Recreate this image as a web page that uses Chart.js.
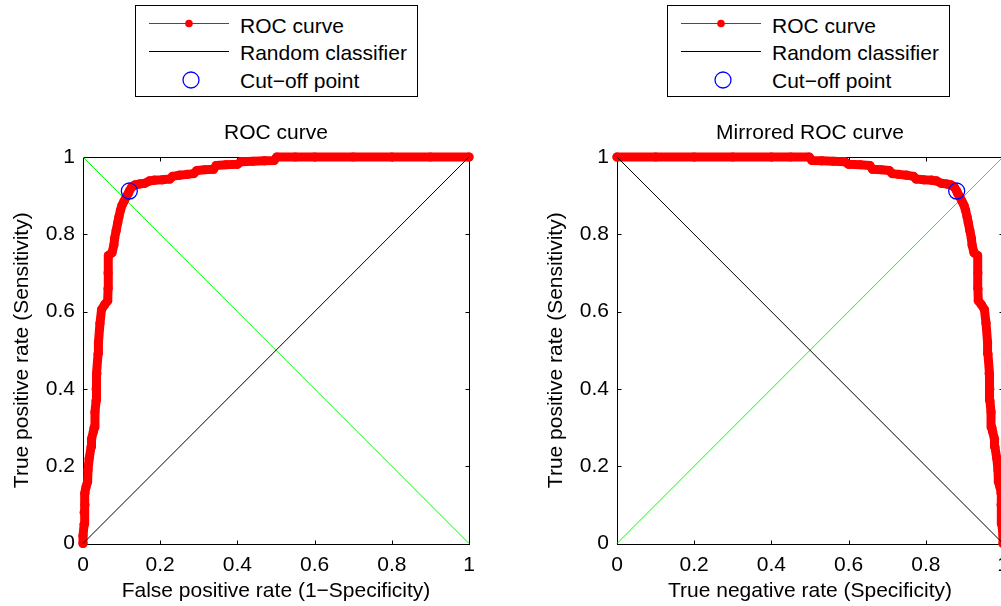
<!DOCTYPE html>
<html>
<head>
<meta charset="utf-8">
<script src="https://cdn.jsdelivr.net/npm/chart.js@4.4.1/dist/chart.umd.min.js"></script>
<style>
  html, body { margin:0; padding:0; background:#fff; }
  body { width:1001px; height:606px; overflow:hidden; position:relative; font-family:"Liberation Sans", Arial, Helvetica, sans-serif; }
  canvas { position:absolute; top:0; }
  .legend { position:absolute; top:5px; width:281px; height:90px; border:1px solid #000; background:#fff; }
  .legend svg { position:absolute; left:0; top:0; }
  .legend span { position:absolute; left:104px; font-size:21px; line-height:24px; color:#000; white-space:nowrap; }
</style>
</head>
<body>
<canvas id="left" width="533" height="606" style="left:0px"></canvas>
<canvas id="right" width="533" height="606" style="left:534px"></canvas>

<div class="legend" style="left:135px">
  <svg width="281" height="90">
    <line x1="13" y1="17.5" x2="93" y2="17.5" stroke="#ff0000" stroke-width="1"/>
    <circle cx="53" cy="17.5" r="3.8" fill="#ff0000"/>
    <line x1="13" y1="45.5" x2="93" y2="45.5" stroke="#000" stroke-width="1"/>
    <circle cx="55" cy="74" r="8" fill="none" stroke="#0000ff" stroke-width="1.3"/>
  </svg>
  <span style="top:8px">ROC curve</span>
  <span style="top:35px">Random classifier</span>
  <span style="top:63px">Cut−off point</span>
</div>
<div class="legend" style="left:667px">
  <svg width="281" height="90">
    <line x1="13" y1="17.5" x2="93" y2="17.5" stroke="#ff0000" stroke-width="1"/>
    <circle cx="53" cy="17.5" r="3.8" fill="#ff0000"/>
    <line x1="13" y1="45.5" x2="93" y2="45.5" stroke="#000" stroke-width="1"/>
    <circle cx="55" cy="74" r="8" fill="none" stroke="#0000ff" stroke-width="1.3"/>
  </svg>
  <span style="top:8px">ROC curve</span>
  <span style="top:35px">Random classifier</span>
  <span style="top:63px">Cut−off point</span>
</div>

<script>
// ---- data ----
const fpr = [0, 0, 0.003, 0.003, 0.005, 0.005, 0.008, 0.012, 0.013, 0.016, 0.021, 0.022, 0.027, 0.029, 0.031, 0.034, 0.034, 0.036, 0.039, 0.040, 0.044, 0.048, 0.056, 0.064, 0.065, 0.065, 0.066, 0.075, 0.080, 0.082, 0.086, 0.090, 0.093, 0.097, 0.101, 0.106, 0.112, 0.117, 0.120, 0.126, 0.135, 0.145, 0.160, 0.172, 0.185, 0.205, 0.225, 0.232, 0.250, 0.270, 0.287, 0.295, 0.315, 0.338, 0.345, 0.370, 0.400, 0.410, 0.440, 0.470, 0.495, 0.502, 0.55, 0.6, 0.7, 0.8, 0.9, 1];
const tpr = [0, 0.02, 0.05, 0.08, 0.10, 0.13, 0.147, 0.16, 0.19, 0.22, 0.25, 0.27, 0.29, 0.30, 0.34, 0.37, 0.40, 0.44, 0.49, 0.52, 0.57, 0.605, 0.618, 0.628, 0.66, 0.70, 0.745, 0.752, 0.772, 0.79, 0.81, 0.83, 0.845, 0.862, 0.875, 0.885, 0.897, 0.905, 0.912, 0.922, 0.928, 0.930, 0.932, 0.938, 0.940, 0.941, 0.943, 0.950, 0.953, 0.955, 0.957, 0.965, 0.967, 0.968, 0.978, 0.980, 0.981, 0.988, 0.989, 0.990, 0.991, 1, 1, 1, 1, 1, 1, 1];
const cutoffFpr = 0.12;
const cutoffTpr = 0.912;
const diagX = [0, 1];
const diagUp = [0, 1];
const diagDown = [1, 0];
const tickValues = [0, 0.2, 0.4, 0.6, 0.8, 1];
const tickLabels = ["0", "0.2", "0.4", "0.6", "0.8", "1"];
const titles = ["ROC curve", "Mirrored ROC curve"];
const xTitles = ["False positive rate (1−Specificity)", "True negative rate (Specificity)"];
const yTitle = "True positive rate (Sensitivity)";

const FONT = "'Liberation Sans', Arial, Helvetica, sans-serif";

const boxPlugin = {
  id: 'box',
  beforeDatasetsDraw(chart) {
    const {ctx, chartArea, scales} = chart;
    const L = Math.round(chartArea.left) + 0.5, R = Math.round(chartArea.right) + 0.5;
    const T = Math.round(chartArea.top) + 0.5, B = Math.round(chartArea.bottom) + 0.5;
    ctx.save();
    ctx.strokeStyle = '#000';
    ctx.lineWidth = 1;
    ctx.strokeRect(L, T, R - L, B - T);
    const tl = 4;
    ctx.beginPath();
    tickValues.forEach(v => {
      const px = Math.round(scales.x.getPixelForValue(v)) + 0.5;
      ctx.moveTo(px, B); ctx.lineTo(px, B - tl);
      ctx.moveTo(px, T); ctx.lineTo(px, T + tl);
      const py = Math.round(scales.y.getPixelForValue(v)) + 0.5;
      ctx.moveTo(L, py); ctx.lineTo(L + tl, py);
      ctx.moveTo(R, py); ctx.lineTo(R - tl, py);
    });
    ctx.stroke();
    ctx.restore();
  }
};

function pts(xs, ys) { return xs.map((x, i) => ({x: x, y: ys[i]})); }
function tickLabel(value, index) { return tickLabels[index]; }

function makeChart(id, mirrored) {
  const curveX = mirrored ? fpr.map(v => 1 - v) : fpr;
  const cutX = mirrored ? 1 - cutoffFpr : cutoffFpr;
  const blackY = mirrored ? diagDown : diagUp;
  const greenY = mirrored ? diagUp : diagDown;
  const idx = mirrored ? 1 : 0;
  return new Chart(document.getElementById(id), {
    type: 'scatter',
    data: {
      datasets: [
        { label: 'Cut-off point', data: [{x: cutX, y: cutoffTpr}], showLine: false,
          pointRadius: 8, pointHoverRadius: 8, pointBackgroundColor: 'rgba(0,0,0,0)',
          pointBorderColor: '#0000ff', pointBorderWidth: 1.3, clip: false },
        { label: 'Random classifier', data: pts(diagX, blackY), showLine: true,
          borderColor: '#000', borderWidth: 1, pointRadius: 0, clip: false },
        { label: 'ROC curve', data: pts(curveX, tpr), showLine: true,
          borderColor: '#ff0000', borderWidth: 9, borderCapStyle: 'round', borderJoinStyle: 'round',
          pointRadius: 4.6, pointBackgroundColor: '#ff0000', pointBorderWidth: 0, clip: false },
        { label: 'diag', data: pts(diagX, greenY), showLine: true,
          borderColor: '#00ff00', borderWidth: 1, pointRadius: 0, clip: false }
      ]
    },
    options: {
      responsive: false,
      animation: false,
      devicePixelRatio: 1,
      layout: { padding: { left: 0, right: 64, top: 120.4, bottom: 0 } },
      elements: { line: { tension: 0 } },
      plugins: {
        legend: { display: false },
        tooltip: { enabled: false },
        title: { display: true, text: titles[idx], fullSize: false, color: '#000',
                 font: { family: FONT, size: 21, weight: 'normal', lineHeight: 1.2 },
                 padding: { top: 0, bottom: 11.4 } }
      },
      scales: {
        x: {
          type: 'linear', min: 0, max: 1,
          afterBuildTicks(scale) { scale.ticks = tickValues.map(v => ({value: v})); },
          ticks: { color: '#000', padding: 9, maxRotation: 0, autoSkip: false, callback: tickLabel,
                   font: { family: FONT, size: 21, lineHeight: 1.2 } },
          grid: { display: true, drawOnChartArea: false, drawTicks: false },
          border: { display: false },
          title: { display: true, text: xTitles[idx], color: '#000',
                   font: { family: FONT, size: 21, lineHeight: 1.2 }, padding: { top: 0, bottom: 2.4 } },
          afterFit(scale) { scale.height = 62.5; }
        },
        y: {
          type: 'linear', min: 0, max: 1,
          afterBuildTicks(scale) { scale.ticks = tickValues.map(v => ({value: v})); },
          ticks: { color: '#000', padding: 8, autoSkip: false, callback: tickLabel,
                   font: { family: FONT, size: 21, lineHeight: 1.2 } },
          grid: { display: true, drawOnChartArea: false, drawTicks: false },
          border: { display: false },
          title: { display: true, text: yTitle, color: '#000',
                   font: { family: FONT, size: 21, lineHeight: 1.2 }, padding: { top: 9.4, bottom: 0 } },
          afterFit(scale) { scale.width = 83; }
        }
      }
    },
    plugins: [boxPlugin]
  });
}

makeChart('left', false);
makeChart('right', true);
</script>
</body>
</html>
